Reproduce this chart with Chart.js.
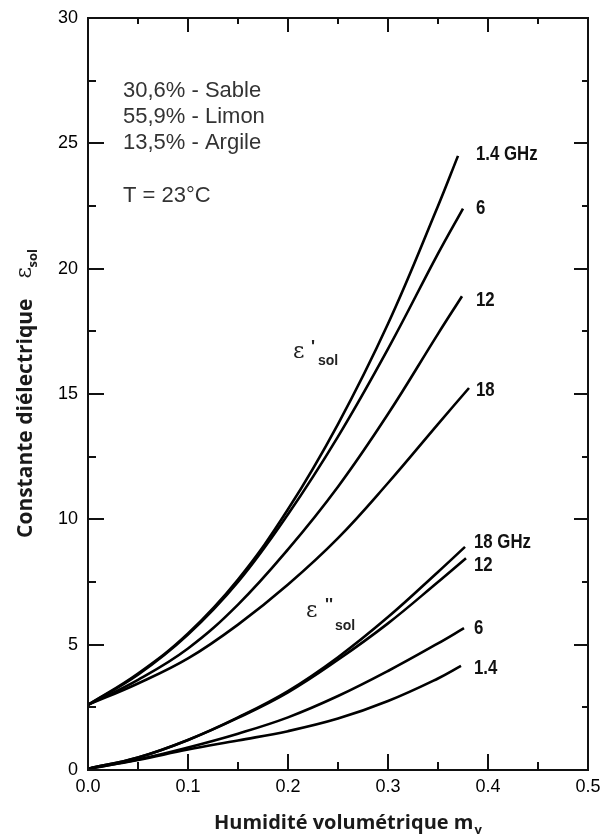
<!DOCTYPE html>
<html>
<head>
<meta charset="utf-8">
<script src="https://cdn.jsdelivr.net/npm/chart.js@4.4.0/dist/chart.umd.min.js"></script>
<style>
  html, body { margin: 0; padding: 0; background: #fff; }
  #wrap { width: 602px; height: 836px; }
</style>
</head>
<body>
<div id="wrap"><canvas id="chart" width="602" height="836"></canvas></div>
<script>
// Humidité volumétrique (abscisses communes)
const mv = [0, 0.05, 0.1, 0.15, 0.2, 0.25, 0.3, 0.35];

// Frequences (GHz)
const frequences = ['1.4', '6', '12', '18'];

// Partie reelle eps'sol, une liste par frequence
const epsReel_1_4 = [2.6, 3.85, 5.45, 7.6, 10.4, 13.8, 17.8, 22.5];
const epsReel_6   = [2.6, 3.8, 5.4, 7.5, 10.2, 13.3, 16.8, 20.6];
const epsReel_12  = [2.6, 3.6, 4.85, 6.6, 8.8, 11.3, 14.2, 17.4];
const epsReel_18  = [2.6, 3.45, 4.45, 5.8, 7.4, 9.25, 11.45, 13.8];
// dernier point de chaque courbe (mv, eps')
const finReelMv  = [0.370, 0.375, 0.374, 0.381];
const finReelEps = [24.5, 22.4, 18.9, 15.24];

// Partie imaginaire eps''sol
const epsImag_1_4 = [0.05, 0.4, 0.82, 1.18, 1.55, 2.05, 2.75, 3.65];
const epsImag_6   = [0.05, 0.42, 0.9, 1.45, 2.1, 2.95, 3.95, 5.05];
const epsImag_12  = [0.05, 0.5, 1.2, 2.08, 3.1, 4.4, 5.85, 7.5];
const epsImag_18  = [0.05, 0.5, 1.2, 2.1, 3.15, 4.5, 6.1, 7.9];
const finImagMv  = [0.373, 0.376, 0.378, 0.377];
const finImagEps = [4.15, 5.66, 8.45, 8.9];

// Graduations
const xTicks = [0, 0.1, 0.2, 0.3, 0.4, 0.5];
const yTicks = [0, 5, 10, 15, 20, 25, 30];

const compo = ['30,6% - Sable', '55,9% - Limon', '13,5% - Argile'];
const temperature = 'T = 23°C';

function courbe(ys, xEnd, yEnd) {
  const pts = mv.map((x, i) => ({ x: x, y: ys[i] }));
  pts.push({ x: xEnd, y: yEnd });
  return {
    data: pts,
    borderColor: '#000',
    borderWidth: 2.6,
    pointRadius: 0,
    fill: false,
    tension: 0.4
  };
}

const datasets = [
  courbe(epsReel_1_4, finReelMv[0], finReelEps[0]),
  courbe(epsReel_6, finReelMv[1], finReelEps[1]),
  courbe(epsReel_12, finReelMv[2], finReelEps[2]),
  courbe(epsReel_18, finReelMv[3], finReelEps[3]),
  courbe(epsImag_1_4, finImagMv[0], finImagEps[0]),
  courbe(epsImag_6, finImagMv[1], finImagEps[1]),
  courbe(epsImag_12, finImagMv[2], finImagEps[2]),
  courbe(epsImag_18, finImagMv[3], finImagEps[3])
];

const sans = "'Liberation Sans', Arial, sans-serif";

// texte "etroit" : police normale compressee horizontalement
function texteEtroit(ctx, t, x, y, k) {
  ctx.save();
  ctx.translate(x, y);
  ctx.scale(k, 1);
  ctx.fillText(t, 0, 0);
  ctx.restore();
}

// cadre, graduations interieures et annotations
const decor = {
  id: 'decor',
  afterDraw(chart) {
    const ctx = chart.ctx;
    const a = chart.chartArea;
    const xs = chart.scales.x, ys = chart.scales.y;
    ctx.save();
    ctx.strokeStyle = '#111';
    ctx.lineWidth = 2;
    ctx.strokeRect(a.left, a.top, a.right - a.left, a.bottom - a.top);

    // graduations en x (0.05)
    for (let i = 0; i <= 10; i++) {
      const px = Math.round(xs.getPixelForValue(i * 0.05));
      const len = i % 2 === 0 ? 16 : 8;
      ctx.beginPath();
      ctx.moveTo(px, a.bottom); ctx.lineTo(px, a.bottom - len);
      ctx.moveTo(px, a.top); ctx.lineTo(px, a.top + len - 2);
      ctx.stroke();
    }
    // graduations en y (2.5)
    for (let i = 0; i <= 12; i++) {
      const py = Math.round(ys.getPixelForValue(i * 2.5));
      const len = i % 2 === 0 ? 16 : 8;
      ctx.beginPath();
      ctx.moveTo(a.left, py); ctx.lineTo(a.left + len, py);
      ctx.moveTo(a.right, py); ctx.lineTo(a.right - len + 2, py);
      ctx.stroke();
    }

    // composition du sol
    ctx.fillStyle = '#333';
    ctx.font = "22px " + sans;
    ctx.textBaseline = 'middle';
    ctx.textAlign = 'left';
    compo.forEach((t, i) => ctx.fillText(t, 123, 91 + i * 26));
    ctx.fillText(temperature, 123, 196);

    // etiquettes des frequences
    ctx.fillStyle = '#111';
    ctx.font = "bold 21px " + sans;
    const reelY = [154, 208, 300, 390];
    const reelTxt = [frequences[0] + ' GHz', frequences[1], frequences[2], frequences[3]];
    reelTxt.forEach((t, i) => texteEtroit(ctx, t, 476, reelY[i], 0.8));
    const imagY = [668, 628, 565, 542];
    const imagTxt = [frequences[0], frequences[1], frequences[2], frequences[3] + ' GHz'];
    imagTxt.forEach((t, i) => texteEtroit(ctx, t, 474, imagY[i], 0.8));

    // eps'sol et eps''sol
    ctx.fillStyle = '#222';
    ctx.font = "22px 'DejaVu Serif', serif";
    ctx.fillText("\u03b5", 293, 352);
    ctx.fillText("\u03b5", 306, 611);
    ctx.font = "bold 17px " + sans;
    ctx.fillText("'", 311, 347);
    ctx.fillText("''", 325, 605);
    ctx.font = "bold 14px " + sans;
    ctx.fillText("sol", 318, 361);
    ctx.fillText("sol", 335, 626);

    // titre axe x
    ctx.fillStyle = '#1a1a1a';
    ctx.font = "bold 20px 'Open Sans', " + sans;
    ctx.textBaseline = 'alphabetic';
    const tx = 'Humidité volumétrique m';
    ctx.fillText(tx, 214, 829);
    const w = ctx.measureText(tx).width;
    ctx.font = "bold 13px 'Open Sans', " + sans;
    ctx.fillText('v', 214 + w + 1, 834);

    // titre axe y (tourne)
    ctx.translate(32, 538);
    ctx.rotate(-Math.PI / 2);
    ctx.font = "bold 21px 'Open Sans', " + sans;
    const ty = 'Constante diélectrique';
    ctx.fillText(ty, 0, 0);
    const wy = ctx.measureText(ty).width;
    ctx.font = "22px 'DejaVu Serif', serif";
    ctx.fillText("\u03b5", wy + 20, -1);
    ctx.font = "bold 13px 'Open Sans', " + sans;
    ctx.fillText('sol', wy + 31, 5);
    ctx.restore();
  }
};

new Chart(document.getElementById('chart'), {
  type: 'line',
  data: { datasets: datasets },
  options: {
    responsive: false,
    animation: false,
    layout: { padding: { top: 18, right: 14, left: 0, bottom: 0 } },
    plugins: { legend: { display: false }, tooltip: { enabled: false } },
    scales: {
      x: {
        type: 'linear',
        min: 0, max: 0.5,
        afterFit: (s) => { s.height = 66; s.paddingRight = 0; s.paddingLeft = 0; },
        afterBuildTicks: (s) => { s.ticks = xTicks.map(v => ({ value: v })); },
        grid: { display: false, drawTicks: false },
        border: { display: false },
        ticks: {
          padding: 6,
          color: '#000',
          font: { family: sans, size: 18 },
          callback: (v) => Number(v).toFixed(1)
        }
      },
      y: {
        type: 'linear',
        min: 0, max: 30,
        afterFit: (s) => { s.width = 88; s.paddingTop = 0; s.paddingBottom = 0; },
        afterBuildTicks: (s) => { s.ticks = yTicks.map(v => ({ value: v })); },
        grid: { display: false, drawTicks: false },
        border: { display: false },
        ticks: {
          padding: 10,
          color: '#000',
          font: { family: sans, size: 18 }
        }
      }
    }
  },
  plugins: [decor]
});
</script>
</body>
</html>
